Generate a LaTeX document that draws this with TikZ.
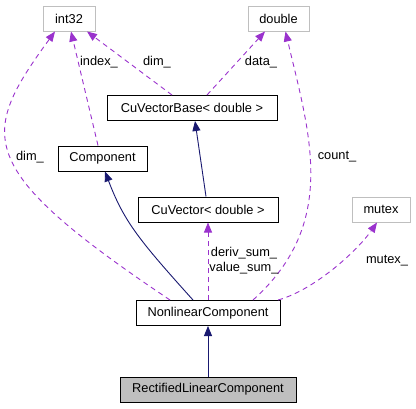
\documentclass[tikz,border=0pt]{standalone}
\usepackage{fontspec}
\setmainfont{Liberation Sans}
\usepackage{tikz}
\usetikzlibrary{arrows.meta}

\definecolor{usecol}{HTML}{9A32CD}
\definecolor{inhcol}{HTML}{191970}
\definecolor{extgray}{HTML}{BFBFBF}

\tikzset{
  classbox/.style={draw=black, line width=1pt, inner sep=0pt, minimum height=25pt},
  extbox/.style={draw=extgray, line width=1pt, inner sep=0pt, minimum height=25pt},
  inherit/.style={draw=inhcol, line width=0.9pt, -{Triangle[length=10pt,width=8pt]}},
  usage/.style={draw=usecol, line width=0.9pt, dash pattern=on 5pt off 4pt,
    -{Triangle[length=10pt,width=8pt,fill=usecol]}},
  edgelabel/.style={inner sep=0pt, align=center}
}

\begin{document}
\begin{tikzpicture}[x=1pt, y=-1pt, font=\fontsize{12.8}{15}\selectfont]
		\useasboundingbox (0,0) rectangle (416,408);

		% boxes
		\node[extbox, minimum width=52pt] (int32) at (69,18.5) {int32};
		\node[extbox, minimum width=61pt] (double) at (278.5,18.5) {double};
		\node[classbox, minimum width=170pt] (cvb) at (192,108) {CuVectorBase< double >};
		\node[classbox, minimum width=89pt] (comp) at (102.5,158.5) {Component};
		\node[classbox, minimum width=140pt] (cv) at (208,209.5) {CuVector< double >};
		\node[extbox, minimum width=58pt] (mutex) at (381,209.5) {mutex};
		\node[classbox, minimum width=144pt] (nlc) at (208,313) {NonlinearComponent};
		\node[classbox, minimum width=176pt, fill=extgray] (rlc) at (208,389.5) {RectifiedLinearComponent};

		% inheritance
		\draw[inherit] (rlc.north) -- (nlc.south);
		\draw[inherit] ([xshift=-2pt]cv.north) -- ([xshift=3pt]cvb.south);
		\draw[inherit] ([xshift=-15pt]nlc.north) .. controls +(-54,-60) and +(19,50) .. ([xshift=2.5pt]comp.south);

		% members
		\draw[usage] ([xshift=-4.5pt]comp.north) -- ([xshift=2pt]int32.south);
		\draw[usage] ([xshift=-20pt]cvb.north) -- ([xshift=18pt]int32.south);
		\draw[usage] ([xshift=15pt]cvb.north) -- ([xshift=-13.5pt]double.south);
		\draw[usage] (nlc.north) -- (cv.south);
		\draw[usage] ([xshift=-38pt]nlc.north) .. controls +(-197,-132) and +(-76,104) .. ([xshift=-14pt]int32.south);
		\draw[usage] ([xshift=45pt]nlc.north) .. controls +(86,-77) and +(24,102) .. ([xshift=7pt]double.south);
		\draw[usage] ([xshift=70pt]nlc.north) .. controls +(35,-9.5) and +(-21,30) .. ([xshift=-4pt]mutex.south);

		% labels
		\node[edgelabel] (lindex) at (99,62) {index\_};
		\node[edgelabel] (ldimb) at (157,62) {dim\_};
		\node[edgelabel] (ldata) at (261,62) {data\_};
		\node[edgelabel] (ldimn) at (30,157) {dim\_};
		\node[edgelabel] (lcount) at (337,157) {count\_};
		\node[edgelabel] (lsum) at (244,260.5) {deriv\_sum\_\\value\_sum\_};
		\node[edgelabel] (lmutex) at (387,261) {mutex\_};

\end{tikzpicture}
\end{document}
